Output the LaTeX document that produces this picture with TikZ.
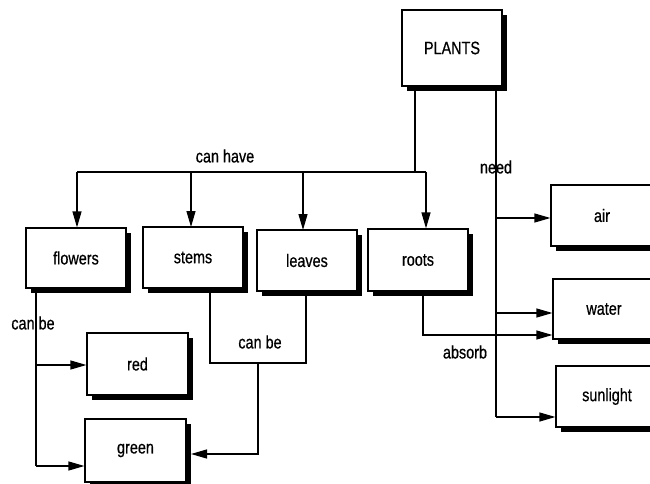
\documentclass[tikz,border=0pt]{standalone}
\usepackage{fontspec}
\setmainfont[FakeStretch=0.8,FakeBold=0.6]{Liberation Sans}
\usetikzlibrary{arrows.meta,shadows}
\begin{document}
\begin{tikzpicture}[x=1pt,y=-1pt,
  box/.style={draw, line width=1.2pt, fill=white, minimum width=100pt, minimum height=61pt,
    inner sep=0pt, font=\fontsize{18}{20}\selectfont,
    drop shadow={shadow xshift=5pt, shadow yshift=-5pt, fill=black, opacity=1}},
  conn/.style={line width=1.2pt},
  arr/.style={conn, -{Triangle[length=16pt,width=9pt]}},
  lbl/.style={font=\fontsize{18}{20}\selectfont, inner sep=0pt}]
\useasboundingbox (0,0) rectangle (650,484);
\clip (0,0) rectangle (650,484);

% boxes
\node[box, minimum height=76pt] (plants) at (452,48) {PLANTS};
\node[box, minimum height=60pt] (flowers) at (76,258) {flowers};
\node[box] (stems) at (193,257.5) {stems};
\node[box] (leaves) at (307,260.5) {leaves};
\node[box, minimum height=62pt] (roots) at (418,260) {roots};
\node[box, minimum width=101pt, minimum height=62pt] (red) at (137.5,364) {red};
\node[box, minimum width=101pt, minimum height=63pt] (green) at (135.5,450.5) {green};
\node[box, minimum width=102pt] (air) at (602,215.5) {air};
\node[box, minimum width=102pt, minimum height=60pt] (water) at (604,309) {water};
\node[box, minimum width=102pt] (sunlight) at (607,396.5) {sunlight};

% can have
\coordinate (hub) at (415,172);
\coordinate (hl) at (77,172);
\coordinate (hr) at (426,172);
\draw[conn] (plants.south -| hub) -- (hub);
\draw[conn] (hl) -- (hr);
\draw[arr] (hl) -- (hl |- flowers.north);
\draw[arr] (191,172) -- (191,227);
\draw[arr] (303,172) -- (303,230);
\draw[arr] (hr) -- (hr |- roots.north);
\node[lbl] (canhave) at (225,156) {can have};

% need
\coordinate (nt) at (496,86);
\coordinate (nb) at (496,417);
\draw[conn] (nt) -- (nb);
\draw[arr] (496,218) -- (air.west |- 0,218);
\draw[arr] (496,313) -- (water.west |- 0,313);
\draw[arr] (nb) -- (sunlight.west |- nb);
\node[lbl] (need) at (496,167) {need};

% roots absorb
\coordinate (ra) at (423,335);
\draw[arr] (roots.south -| ra) -- (ra) -- (water.west |- ra);
\node[lbl] (absorb) at (465,352) {absorb};

% flowers can be
\coordinate (fa) at (36,365);
\coordinate (fb) at (36,466);
\draw[conn] (flowers.south -| fb) -- (fb);
\draw[arr] (fa) -- (red.west |- fa);
\draw[arr] (fb) -- (green.west |- fb);
\node[lbl] (canbe1) at (33,323) {can be};

% stems/leaves can be
\coordinate (s1) at (210,363);
\coordinate (s2) at (306,363);
\coordinate (sm) at (258,363);
\coordinate (sg) at (258,454);
\draw[conn] (stems.south -| s1) -- (s1) -- (s2) -- (leaves.south -| s2);
\draw[arr] (sm) -- (sg) -- (191,454);
\node[lbl] (canbe2) at (260,342) {can be};
\end{tikzpicture}
\end{document}
